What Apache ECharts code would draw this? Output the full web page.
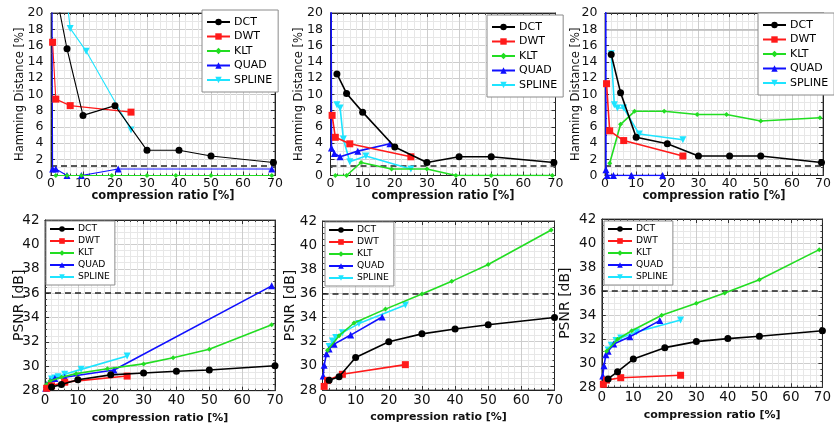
<!DOCTYPE html>
<html><head><meta charset="utf-8">
<script src="https://cdn.jsdelivr.net/npm/echarts@6/dist/echarts.min.js"></script>
<style>html,body{margin:0;padding:0;background:#fff}#c{width:834px;height:429px}</style>
</head><body><div id="c"></div>
<script>
const NAMES = ['DCT','DWT','KLT','QUAD','SPLINE'];
const X_NAME = 'compression ratio [%]';
const HD_NAME = 'Hamming Distance [%]';
const PS_NAME = 'PSNR [dB]';
const HD_THRESHOLD = 1.2;
const PS_THRESHOLD = 36;

// ---- Hamming distance, panel 1 (top left) ----
const hd1DCT    = [[2,21.6],[5,15.6],[10,7.4],[20,8.6],[30,3.1],[40,3.1],[50,2.4],[69.5,1.6]];
const hd1DWT    = [[0.5,16.4],[1.5,9.4],[6,8.6],[25,7.8]];
const hd1KLT    = [[1.5,0],[5,0],[9.5,0],[19,0],[30,0],[39,0],[50,0],[69,0]];
const hd1QUAD   = [[0.2,40],[0.5,0.8],[1.5,0.8],[5,0],[9.5,0],[21,0.8],[69,0.8]];
const hd1SPLINE = [[4,25],[6,18.1],[11,15.3],[25,5.6]];
// ---- Hamming distance, panel 2 (top middle) ----
const hd2DCT    = [[2,12.5],[5,10.1],[10,7.8],[20,3.5],[30,1.6],[40,2.3],[50,2.3],[69.5,1.6]];
const hd2DWT    = [[0.5,7.4],[1.5,4.7],[6,3.9],[25,2.3]];
const hd2KLT    = [[1.5,0],[5,0],[9.5,1.6],[19,0.8],[30,0.8],[39,0],[50,0],[69,0]];
const hd2QUAD   = [[0.1,40],[0.3,3.4],[1.2,2.7],[3,2.3],[8.5,3.0],[18.5,3.9]];
const hd2SPLINE = [[2,8.7],[3,8.3],[4,4.5],[6,1.7],[11,2.4],[25,0.8]];
// ---- Hamming distance, panel 3 (top right) ----
const hd3DCT    = [[2,14.9],[5,10.2],[10,4.7],[20,3.9],[30,2.4],[40,2.4],[50,2.4],[69.5,1.6]];
const hd3DWT    = [[0.5,11.3],[1.5,5.5],[6,4.3],[25,2.4]];
const hd3KLT    = [[1.5,1.5],[5,6.3],[9.5,7.9],[19,7.9],[29.6,7.5],[39,7.5],[50,6.7],[69,7.1]];
const hd3QUAD   = [[0.2,40],[0.3,0.7],[0.7,0],[2.7,0],[8.5,0],[18.5,0]];
const hd3SPLINE = [[2,15],[3,8.7],[4,8.3],[6,8.3],[11,5.1],[25,4.4]];
// ---- PSNR, panel 1 (bottom left) ----
const ps1DCT    = [[2,28.3],[5,28.5],[10,28.9],[20,29.3],[30,29.45],[40,29.6],[50,29.7],[70,30.05]];
const ps1DWT    = [[0.5,28.2],[2,28.4],[6,28.7],[25,29.2]];
const ps1KLT    = [[0.5,28.5],[1.5,28.8],[5,29.1],[9.5,29.4],[19,29.8],[30,30.2],[39,30.7],[50,31.4],[69,33.4]];
const ps1QUAD   = [[0.2,28.2],[0.5,28.5],[1.5,28.8],[3,29.0],[6,29.1],[21,29.7],[69,36.6]];
const ps1SPLINE = [[2,28.95],[3,29.05],[4,29.15],[6,29.35],[11,29.75],[25,30.85]];
// ---- PSNR, panel 2 (bottom middle) ----
const ps2DCT    = [[2,28.8],[5,29.1],[10,30.7],[20,32.0],[30,32.65],[40,33.05],[50,33.4],[70,34.0]];
const ps2DWT    = [[0.5,28.3],[1.5,28.8],[6,29.3],[25,30.1]];
const ps2KLT    = [[1.5,31.3],[5,32.5],[9.5,33.55],[19,34.7],[30,35.95],[39,37.0],[50,38.4],[69,41.25]];
const ps2QUAD   = [[0.2,29.15],[0.5,30.05],[1.2,31.0],[2,31.4],[3.5,31.8],[8.5,32.55],[18,34.05]];
const ps2SPLINE = [[2,31.6],[3,32.05],[4,32.35],[6,32.75],[11,33.5],[25,35.05]];
// ---- PSNR, panel 3 (bottom right) ----
const ps3DCT    = [[2,28.7],[5,29.3],[10,30.35],[20,31.3],[30,31.8],[40,32.05],[50,32.25],[70,32.7]];
const ps3DWT    = [[0.5,28.25],[1.5,28.6],[6,28.8],[25,29.0]];
const ps3KLT    = [[1.5,31.0],[5,32.0],[9.5,32.7],[19,34.0],[30,35.0],[39,35.85],[50,36.95],[69,39.45]];
const ps3QUAD   = [[0.3,28.95],[0.7,29.8],[1.3,30.7],[2,31.0],[3.8,31.6],[8.9,32.2],[18.4,33.55]];
const ps3SPLINE = [[2,31.1],[3,31.5],[4.5,31.9],[6,32.1],[11,32.6],[25,33.6]];

const FONT = 'DejaVu Sans';
const COLORS = ['#000000','#ff1a1a','#22dd22','#1010ff','#1ee4ff'];
const SYMBOLS = ['circle','rect','diamond','triangle','path://M0,0 L10,0 L5,9 Z'];
const SIZES = [7,7,5,7,7];

const panels = [
  {series:[hd1DCT,hd1DWT,hd1KLT,hd1QUAD,hd1SPLINE], hd:true,  grid:{left:51,top:13,width:224,height:162.5}, yGap:24.5, lw:1.1, legend:{left:202,top:10}},
  {series:[hd2DCT,hd2DWT,hd2KLT,hd2QUAD,hd2SPLINE], hd:true,  grid:{left:330.5,top:13,width:225,height:162.5}, yGap:25.5, lw:1.6, legend:{left:487,top:15}},
  {series:[hd3DCT,hd3DWT,hd3KLT,hd3QUAD,hd3SPLINE], hd:true,  grid:{left:605,top:13,width:223.5,height:162.5}, yGap:22.5, lw:1.6, legend:{left:758,top:13}, extraLine:18},
  {series:[ps1DCT,ps1DWT,ps1KLT,ps1QUAD,ps1SPLINE], hd:false, grid:{left:45,top:220,width:230,height:170.7}, yGap:19, lw:1.6, legend:{left:46,top:221}},
  {series:[ps2DCT,ps2DWT,ps2KLT,ps2QUAD,ps2SPLINE], hd:false, grid:{left:322.5,top:221,width:232,height:169}, yGap:25.5, lw:1.6, legend:{left:325,top:222}},
  {series:[ps3DCT,ps3DWT,ps3KLT,ps3QUAD,ps3SPLINE], hd:false, grid:{left:601.8,top:219,width:227.5,height:168.3}, yGap:29, lw:1.6, legend:{left:604,top:221}}
];

const grids = [], xAxes = [], yAxes = [], series = [], legends = [];
const axisLine = {show:true, onZero:false, lineStyle:{color:'#222', width:1}};
const tick = {show:true, inside:true, length:4, lineStyle:{color:'#333'}};

panels.forEach((p, i) => {
  grids.push(Object.assign({show:true, borderColor:'#555', borderWidth:1, backgroundColor:'#fff'}, p.grid));
  const tickFont = p.hd ? 12.5 : 13.5;
  const ymin = p.hd ? 0 : 28, ymax = p.hd ? 20 : 42;
  const yMinorSplit = p.hd ? 2 : 4;
  xAxes.push({gridIndex:i, type:'value', min:0, max:70, interval:10, position:'bottom',
    axisLine, axisTick:tick,
    minorTick:{show:true, splitNumber:5, length:2, lineStyle:{color:'#444'}},
    splitLine:{show:true, lineStyle:{color:'#cdcdcd', width:1}},
    minorSplitLine:{show:true, lineStyle:{color:'#e7e7e7', width:1}},
    axisLabel:{show:true, margin:p.hd?2:3, color:'#111', fontFamily:FONT, fontSize:tickFont},
    name:X_NAME, nameLocation:'middle', nameGap:p.hd?15:22, nameMoveOverlap:false,
    nameTextStyle:{color:'#111', fontFamily:FONT, fontSize:p.hd?11.5:11, fontWeight:'bold'}});
  xAxes.push({gridIndex:i, type:'value', min:0, max:70, interval:10, position:'top',
    axisLine, axisTick:tick, minorTick:{show:true, splitNumber:5, length:2, lineStyle:{color:'#444'}},
    splitLine:{show:false}, minorSplitLine:{show:false}, axisLabel:{show:false}});
  yAxes.push({gridIndex:i, type:'value', min:ymin, max:ymax, interval:2, position:'left',
    axisLine, axisTick:tick,
    minorTick:{show:true, splitNumber:yMinorSplit, length:2, lineStyle:{color:'#444'}},
    splitLine:{show:true, lineStyle:{color:'#cdcdcd', width:1}},
    minorSplitLine:{show:true, lineStyle:{color:'#e7e7e7', width:1}},
    axisLabel:{show:true, margin:p.hd?7.5:5.5, color:'#111', fontFamily:FONT, fontSize:tickFont},
    name:p.hd?HD_NAME:PS_NAME, nameLocation:'middle', nameGap:p.yGap, nameMoveOverlap:false,
    nameTextStyle:{color:'#111', fontFamily:FONT, fontSize:p.hd?11.5:14}});
  yAxes.push({gridIndex:i, type:'value', min:ymin, max:ymax, interval:2, position:'right',
    axisLine, axisTick:tick, minorTick:{show:true, splitNumber:yMinorSplit, length:2, lineStyle:{color:'#444'}},
    splitLine:{show:false}, minorSplitLine:{show:false}, axisLabel:{show:false}});

  p.series.forEach((d, k) => {
    const s = {
      name:NAMES[k], type:'line', xAxisIndex:2*i, yAxisIndex:2*i, data:d,
      symbol:SYMBOLS[k], symbolSize:SIZES[k], showSymbol:true, clip:true,
      itemStyle:{color:COLORS[k]}, lineStyle:{color:COLORS[k], width:p.lw},
      emphasis:{disabled:true}, z:10 - k
    };
    if (k === 0) {
      const ml = [{yAxis: p.hd ? HD_THRESHOLD : PS_THRESHOLD, lineStyle:{type:[6,4], color:'#222', width:1.6}}];
      if (p.extraLine) ml.push({yAxis:p.extraLine, lineStyle:{type:'solid', color:'#b8b8b8', width:1.6}});
      s.markLine = {silent:true, symbol:'none', label:{show:false}, data:ml, animation:false, z:1};
    }
    series.push(s);
  });

  legends.push({
    orient:'vertical', left:p.legend.left, top:p.legend.top, data:NAMES, selectedMode:false,
    backgroundColor:'#fff', borderColor:'#8a8a8a', borderWidth:1, borderRadius:0,
    padding:p.hd?[6,6,6,4]:[3,5,3,3], itemGap:p.hd?2.5:2,
    itemWidth:p.hd?23:24, itemHeight:p.hd?8:7,
    textStyle:{color:'#000', fontFamily:FONT, fontSize:p.hd?11:9.2, lineHeight:p.hd?12:10, padding:[0,0,0,-1]}
  });
});

const chart = echarts.init(document.getElementById('c'), null, {renderer:'canvas'});
chart.setOption({animation:false, backgroundColor:'#fff', grid:grids, xAxis:xAxes, yAxis:yAxes, series, legend:legends});
</script></body></html>
